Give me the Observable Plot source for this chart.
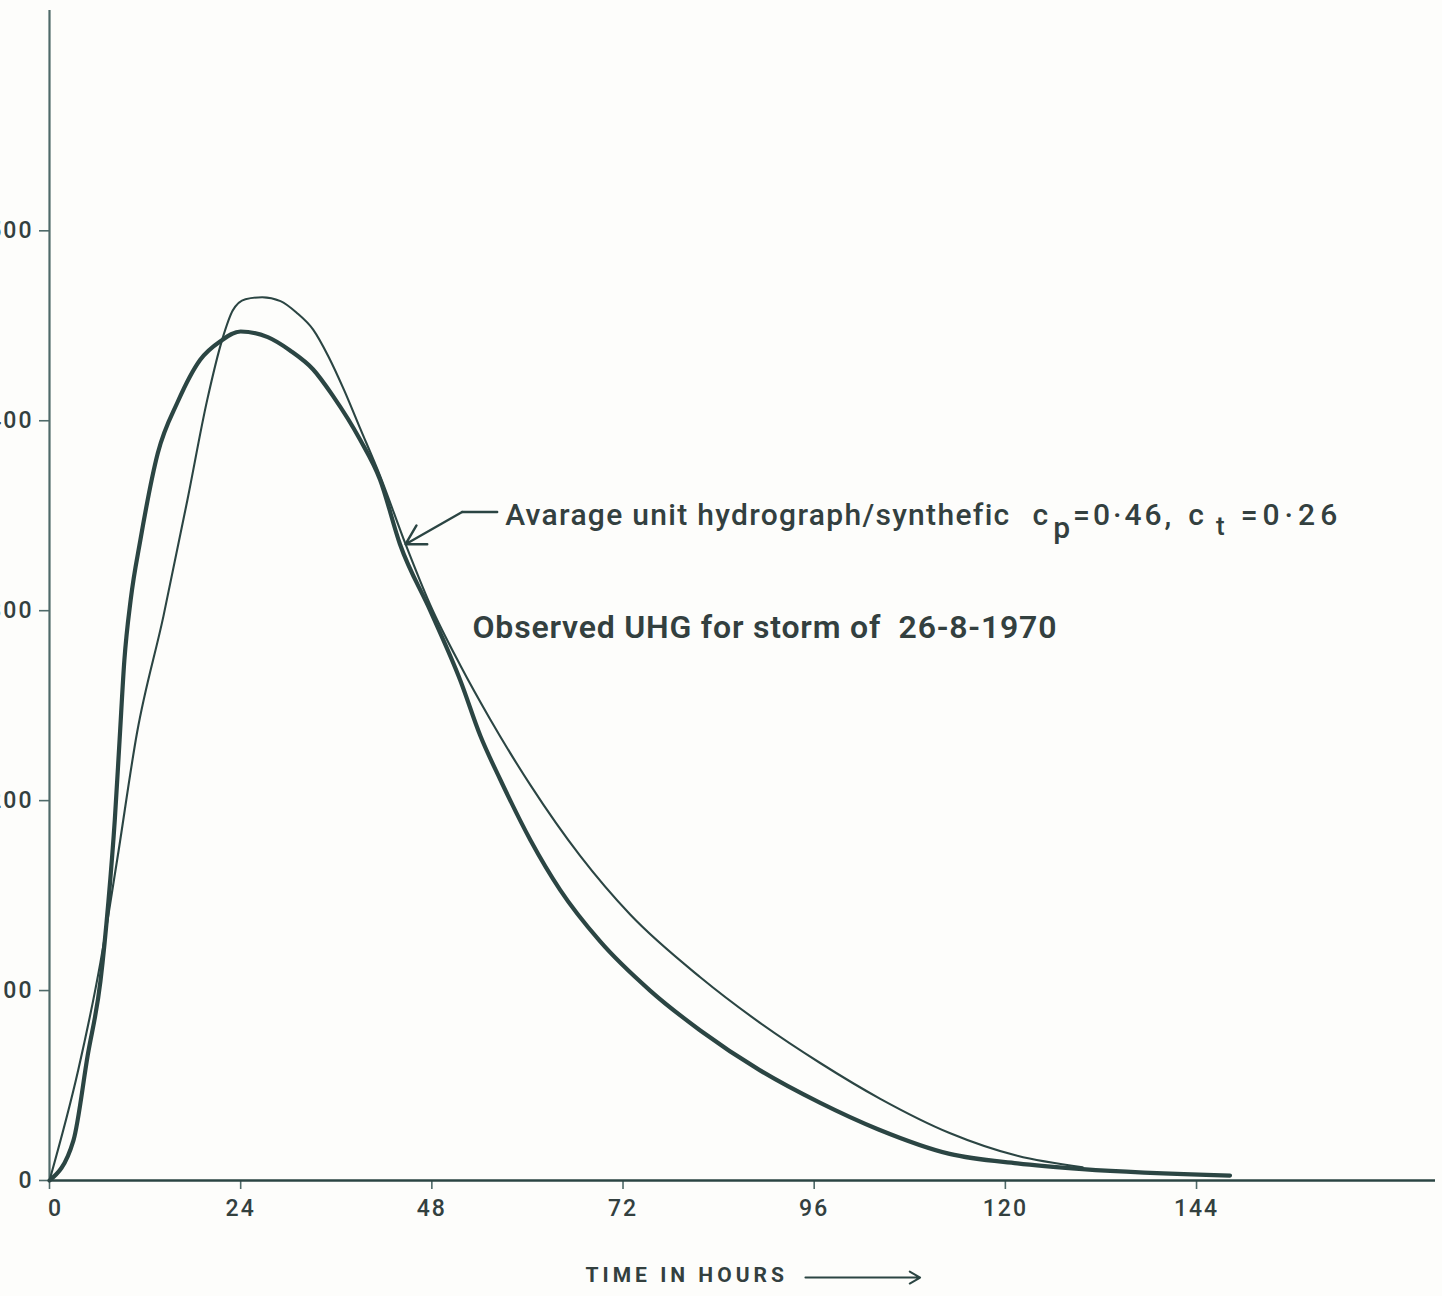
<!DOCTYPE html>
<html>
<head>
<meta charset="utf-8">
<script src="https://cdn.jsdelivr.net/npm/d3@7"></script>
<script src="https://cdn.jsdelivr.net/npm/@observablehq/plot@0.6"></script>
<style>
  html, body { margin: 0; padding: 0; background: #fdfdfb; }
  #chart svg { display: block; }
</style>
</head>
<body>
<div id="chart"></div>
<script>
// Observed unit hydrograph, storm of 26-8-1970 (time in hours, discharge)
const hoursObserved = [0, 3.0, 4.8, 6.4, 7.4, 8.2, 8.8, 9.4, 10.2, 11.4, 13.6, 16.1, 18.9, 21.5, 24.0, 27.4, 30.2, 33.1, 35.6, 39.0, 41.5, 44.0, 47.8, 51.6, 54.1, 56.6, 60.4, 64.1, 69.1, 75.4, 81.7, 89.2, 96.7, 104.0, 113, 121.5, 129.7, 148.2];
const flowObserved  = [0, 21, 66, 105, 147, 190, 232, 274, 306, 337, 383, 410, 432, 442, 447, 444, 437, 427, 413, 390, 369, 335, 300, 263, 234, 211, 179, 153, 126, 100, 79, 58, 41, 27, 14, 9, 6, 2.6];

// Average unit hydrograph / synthetic (Cp = 0.46, Ct = 0.26)
const hoursSynthetic = [0, 3.6, 6.4, 8.5, 11.0, 14.3, 17.3, 19.8, 21.7, 23.0, 24.6, 26.7, 29.0, 31.0, 33.1, 35.0, 37.0, 39.0, 41.5, 44.7, 47.8, 51.6, 55.3, 60.4, 66.6, 72.9, 81.7, 89.2, 96.7, 104.3, 113, 121.5, 129.7];
const flowSynthetic  = [0, 58, 115, 169, 236, 297, 358, 411, 443, 458, 464, 465, 463, 457, 448, 434, 416, 396, 371, 335, 303, 271, 243, 208, 171, 140, 107, 83, 62, 43, 25, 13, 7];

const xTicks = [0, 24, 48, 72, 96, 120, 144];
const yTicks = [0, 100, 200, 300, 400, 500];

const observed = hoursObserved.map((t, i) => ({t, q: flowObserved[i]}));
const synthetic = hoursSynthetic.map((t, i) => ({t, q: flowSynthetic[i]}));

// leader arrow points at the synthetic curve on its falling limb
const arrowTip = synthetic[hoursSynthetic.indexOf(44.7)];

const ink = "#2b4543";
const axisInk = "#4f6a69";
const textInk = "#33403f";
const font = "Roboto, 'DejaVu Sans', sans-serif";

const chart = Plot.plot({
  width: 1442,
  height: 1296,
  marginTop: 10,
  marginRight: 7,
  marginBottom: 116,
  marginLeft: 49,
  style: {background: "transparent", color: axisInk, fontFamily: font},
  x: {domain: [0, 174], label: null},
  y: {domain: [0, 616], label: null},
  marks: [
    Plot.axisX({ticks: xTicks, tickSize: 9, tickPadding: 10, label: null, stroke: axisInk, fill: textInk, strokeWidth: 1.6}),
    Plot.axisY({ticks: yTicks, tickSize: 10, tickPadding: 6, label: null, stroke: axisInk, fill: textInk, strokeWidth: 1.6}),
    Plot.ruleX([0], {stroke: axisInk, strokeWidth: 2.2}),
    Plot.ruleY([0], {stroke: ink, strokeWidth: 2.6}),
    Plot.line(synthetic, {x: "t", y: "q", curve: "monotone-x", stroke: ink, strokeWidth: 2.1}),
    Plot.line(observed, {x: "t", y: "q", curve: "monotone-x", stroke: ink, strokeWidth: 4.2}),
    // annotation leader: short horizontal stroke then an arrow to the curve
    Plot.line([{t: 56.2, q: 352}, {t: 51.8, q: 352}], {x: "t", y: "q", stroke: ink, strokeWidth: 2.4}),
    Plot.arrow([{x1: 51.8, y1: 352, x2: arrowTip.t, y2: arrowTip.q}], {x1: "x1", y1: "y1", x2: "x2", y2: "y2", stroke: ink, strokeWidth: 2.4, headLength: 14, bend: false}),
    Plot.text(["Avarage unit hydrograph/synthefic cp=0·46, ct =0·26"], {x: 57.2, y: 345, text: d => d, textAnchor: "start", lineAnchor: "bottom", fontSize: 30, fill: textInk, fontWeight: 500}),
    Plot.text(["Observed UHG for storm of  26-8-1970"], {x: 53.1, y: 285.6, text: d => d, textAnchor: "start", lineAnchor: "bottom", fontSize: 32, fill: textInk, fontWeight: 600}),
    // x-axis title with its pointer arrow
    Plot.text(["TIME IN HOURS"], {x: 67.3, y: -53.7, text: d => d, textAnchor: "start", lineAnchor: "bottom", fontSize: 21, fontWeight: 700, fill: textInk}),
    Plot.arrow([{x1: 94.9, x2: 109.3, y: -51.1}], {x1: "x1", x2: "x2", y1: "y", y2: "y", stroke: ink, strokeWidth: 2, headLength: 9, bend: false})
  ]
});

// hand-lettered spacing for the texts, and subscripts for cp and ct
const svg = d3.select(chart);
svg.selectAll("text").each(function() {
  const s = this.textContent;
  if (s === "TIME IN HOURS") this.setAttribute("letter-spacing", "4");
  if (s.startsWith("Observed")) { this.setAttribute("letter-spacing", "0.8"); this.style.whiteSpace = "pre"; }
  if (s.startsWith("Avarage")) {
    const node = d3.select(this).text(null).style("white-space", "pre");
    node.append("tspan").attr("letter-spacing", 1.3).text("Avarage unit hydrograph/synthefic");
    node.append("tspan").attr("dx", 22).text("c");
    node.append("tspan").attr("dy", 13).attr("dx", 5).text("p");
    node.append("tspan").attr("dy", -13).attr("dx", 3).attr("letter-spacing", 3).text("=0·46,");
    node.append("tspan").attr("dx", 14).text("c");
    node.append("tspan").attr("dy", 10).attr("dx", 12).attr("font-size", 26).text("t");
    node.append("tspan").attr("dy", -10).attr("dx", 16).attr("letter-spacing", 5).text("=0·26");
  }
});
svg.selectAll("g[aria-label='x-axis tick label'] text, g[aria-label='y-axis tick label'] text")
  .attr("font-size", 23).attr("font-weight", 500).attr("letter-spacing", 2).attr("font-family", font);
// the origin label sits a little right of its tick
svg.selectAll("g[aria-label='x-axis tick label'] text").filter(function() { return this.textContent === "0"; }).attr("dx", 6);

document.getElementById("chart").append(chart);
</script>
</body>
</html>
